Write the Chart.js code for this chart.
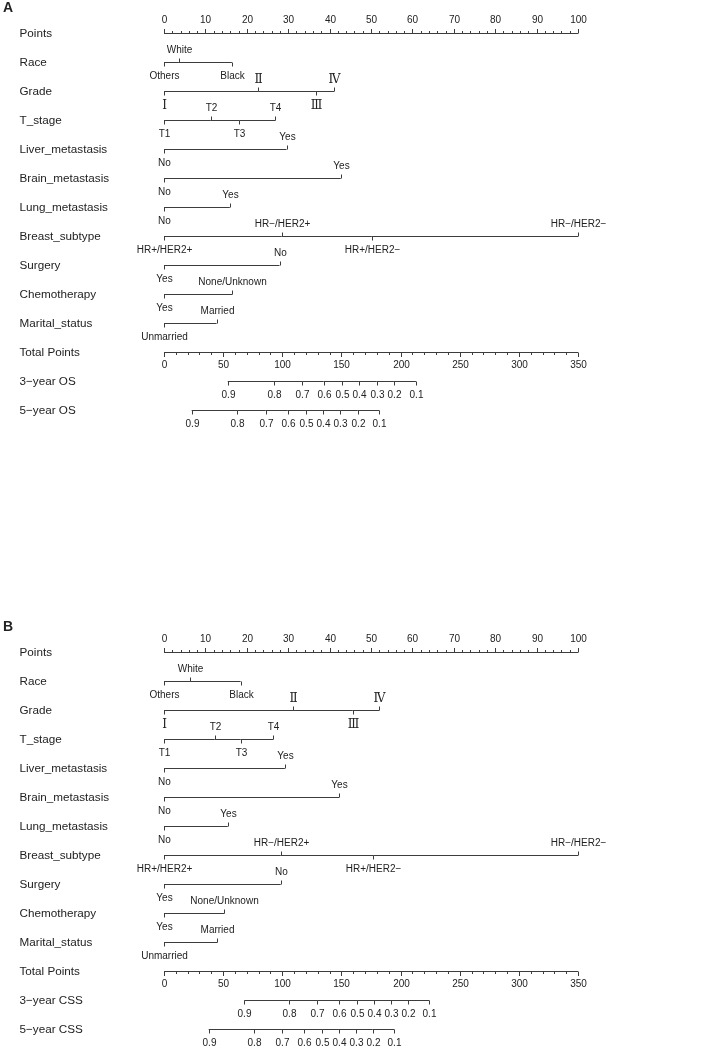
<!DOCTYPE html>
<html>
<head>
<meta charset="utf-8">
<script src="https://cdn.jsdelivr.net/npm/chart.js@4"></script>
<style>
  html, body { margin: 0; padding: 0; background: #fff; }
  #wrap { position: relative; width: 727px; height: 1048px; }
  .panel { position: absolute; left: 0; width: 727px; }
</style>
</head>
<body>
<div id="wrap">
  <div class="panel" style="top:0;height:619px"><canvas id="chartA"></canvas></div>
  <div class="panel" style="top:619px;height:429px"><canvas id="chartB"></canvas></div>
</div>
<script>
// row names (same in both panels, except the survival rows)
const rowLabels = ["Points", "Race", "Grade", "T_stage", "Liver_metastasis", "Brain_metastasis",
  "Lung_metastasis", "Breast_subtype", "Surgery", "Chemotherapy", "Marital_status", "Total Points"];
const survivalLabelsA = ["3\u2212year OS", "5\u2212year OS"];
const survivalLabelsB = ["3\u2212year CSS", "5\u2212year CSS"];

// factor levels, in order of increasing points
const raceLevels = ["Others", "White", "Black"];
const gradeLevels = ["\u2160", "\u2161", "\u2162", "\u2163"];
const tStageLevels = ["T1", "T2", "T3", "T4"];
const yesNoLevels = ["No", "Yes"];
const subtypeLevels = ["HR+/HER2+", "HR\u2212/HER2+", "HR+/HER2\u2212", "HR\u2212/HER2\u2212"];
const surgeryLevels = ["Yes", "No"];
const chemoLevels = ["Yes", "None/Unknown"];
const maritalLevels = ["Unmarried", "Married"];

// points per level, panel A (OS)
const racePointsA = [0, 3.6, 16.4];
const gradePointsA = [0, 22.8, 36.7, 41.1];
const tStagePointsA = [0, 11.3, 18.2, 26.9];
const liverPointsA = [0, 29.6];
const brainPointsA = [0, 42.7];
const lungPointsA = [0, 15.9];
const subtypePointsA = [0, 28.4, 50.2, 100];
const surgeryPointsA = [0, 27.9];
const chemoPointsA = [0, 16.5];
const maritalPointsA = [0, 12.7];

// points per level, panel B (CSS)
const racePointsB = [0, 6.3, 18.5];
const gradePointsB = [0, 31.2, 45.6, 52.0];
const tStagePointsB = [0, 12.2, 18.5, 26.4];
const liverPointsB = [0, 29.2];
const brainPointsB = [0, 42.3];
const lungPointsB = [0, 15.4];
const subtypePointsB = [0, 28.2, 50.6, 100];
const surgeryPointsB = [0, 28.2];
const chemoPointsB = [0, 14.6];
const maritalPointsB = [0, 12.9];

// survival probability scales: total points where each probability sits
const probLabels = ["0.9", "0.8", "0.7", "0.6", "0.5", "0.4", "0.3", "0.2", "0.1"];
const os3Total = [53.9, 93.0, 116.9, 135.0, 150.5, 164.8, 179.8, 194.4, 213.0];
const os5Total = [23.4, 62.0, 86.0, 104.6, 120.0, 134.4, 149.0, 163.7, 182.0];
const css3Total = [67.9, 105.4, 129.6, 148.2, 163.4, 177.5, 191.9, 206.3, 224.3];
const css5Total = [37.8, 76.1, 99.8, 118.4, 133.8, 147.9, 162.3, 176.4, 194.7];

// axis tick labels
const pointsTicks = [0, 10, 20, 30, 40, 50, 60, 70, 80, 90, 100];
const totalTicks = [0, 50, 100, 150, 200, 250, 300, 350];

const LINE = "#3c3c3c";
const TEXT = "#222";
const SANS = '"Liberation Sans", Arial, sans-serif';
const SERIF = '"Liberation Serif", "DejaVu Serif", serif';

const levelsA = [raceLevels, gradeLevels, tStageLevels, yesNoLevels, yesNoLevels, yesNoLevels,
  subtypeLevels, surgeryLevels, chemoLevels, maritalLevels];
const pointsA = [racePointsA, gradePointsA, tStagePointsA, liverPointsA, brainPointsA, lungPointsA,
  subtypePointsA, surgeryPointsA, chemoPointsA, maritalPointsA];
const pointsB = [racePointsB, gradePointsB, tStagePointsB, liverPointsB, brainPointsB, lungPointsB,
  subtypePointsB, surgeryPointsB, chemoPointsB, maritalPointsB];

const nomogramPlugin = {
  id: "nomogram",
  afterDatasetsDraw(chart, args, opts) {
    const ctx = chart.ctx;
    const x = chart.scales.x, xt = chart.scales.xt, y = chart.scales.y;
    const px = v => Math.round(x.getPixelForValue(v)) + 0.5;
    const pt = v => Math.round(xt.getPixelForValue(v)) + 0.5;
    const py = r => y.getPixelForValue(r);
    ctx.save();
    ctx.strokeStyle = LINE;
    ctx.lineWidth = 1;
    ctx.fillStyle = TEXT;
    const tick = (xx, y0, len) => { ctx.beginPath(); ctx.moveTo(xx, y0); ctx.lineTo(xx, y0 + len); ctx.stroke(); };

    // panel letter
    ctx.font = "bold 14px " + SANS;
    ctx.textAlign = "left"; ctx.textBaseline = "middle";
    ctx.fillText(opts.letter, 3, 8);

    // row names
    ctx.font = "11.7px " + SANS;
    const names = rowLabels.concat(opts.survivalLabels);
    names.forEach((n, i) => ctx.fillText(n, 19.5, py(i)));

    // Points axis: labels above, ticks up
    const y0 = py(0);
    for (let v = 0; v <= 100; v += 2) tick(px(v), y0, v % 10 === 0 ? -4.5 : -2.5);
    ctx.font = "10px " + SANS;
    ctx.textAlign = "center";
    pointsTicks.forEach(v => ctx.fillText(String(v), px(v), y0 - 13));

    // variable rows
    opts.levels.forEach((lv, i) => {
      const yy = py(i + 1);
      const pts = opts.points[i];
      lv.forEach((name, j) => {
        const above = j % 2 === 1;
        tick(px(pts[j]), yy, above ? -4 : 4);
        const roman = lv === gradeLevels;
        ctx.font = roman ? "12px " + SERIF : "10px " + SANS;
        ctx.fillText(name, px(pts[j]), above ? yy - (roman ? 11.5 : 12.5) : yy + 14);
      });
    });

    // Total Points axis: ticks down, labels below
    const yT = py(11);
    for (let v = 0; v <= 350; v += 10) tick(pt(v), yT, v % 50 === 0 ? 4.5 : 2.5);
    ctx.font = "10px " + SANS;
    totalTicks.forEach(v => ctx.fillText(String(v), pt(v), yT + 13));

    // survival scales
    opts.survival.forEach((vals, k) => {
      const yy = py(12 + k);
      vals.forEach((v, j) => {
        tick(pt(v), yy, 4);
        ctx.fillText(probLabels[j], pt(v), yy + 13.5);
      });
    });
    ctx.restore();
  }
};

function makeChart(id, letter, points, survival, survivalLabels, bottomPad) {
  const datasets = [];
  const seg = (data, axis) => datasets.push({
    data, xAxisID: axis, showLine: true, borderColor: LINE, borderWidth: 1,
    pointRadius: 0, clip: false, fill: false
  });
  seg([{ x: 0, y: 0 }, { x: 100, y: 0 }], "x");
  points.forEach((p, i) => seg(p.map(v => ({ x: v, y: i + 1 })), "x"));
  seg([{ x: 0, y: 11 }, { x: 350, y: 11 }], "xt");
  survival.forEach((vals, k) => seg(vals.map(v => ({ x: v, y: 12 + k })), "xt"));

  return new Chart(document.getElementById(id).getContext("2d"), {
    type: "scatter",
    data: { datasets },
    options: {
      responsive: true,
      maintainAspectRatio: false,
      animation: false,
      layout: { padding: { left: 164, right: 149, top: 33.5, bottom: bottomPad } },
      scales: {
        x: { type: "linear", min: 0, max: 100, display: false },
        xt: { type: "linear", min: 0, max: 350, display: false },
        y: { type: "linear", min: 0, max: 13, reverse: true, display: false }
      },
      plugins: {
        legend: { display: false },
        tooltip: { enabled: false },
        nomogram: { letter, levels: levelsA, points, survival, survivalLabels }
      }
    },
    plugins: [nomogramPlugin]
  });
}

makeChart("chartA", "A", pointsA, [os3Total, os5Total], survivalLabelsA, 619 - 410.5);
makeChart("chartB", "B", pointsB, [css3Total, css5Total], survivalLabelsB, 429 - 410.5);
</script>
</body>
</html>
